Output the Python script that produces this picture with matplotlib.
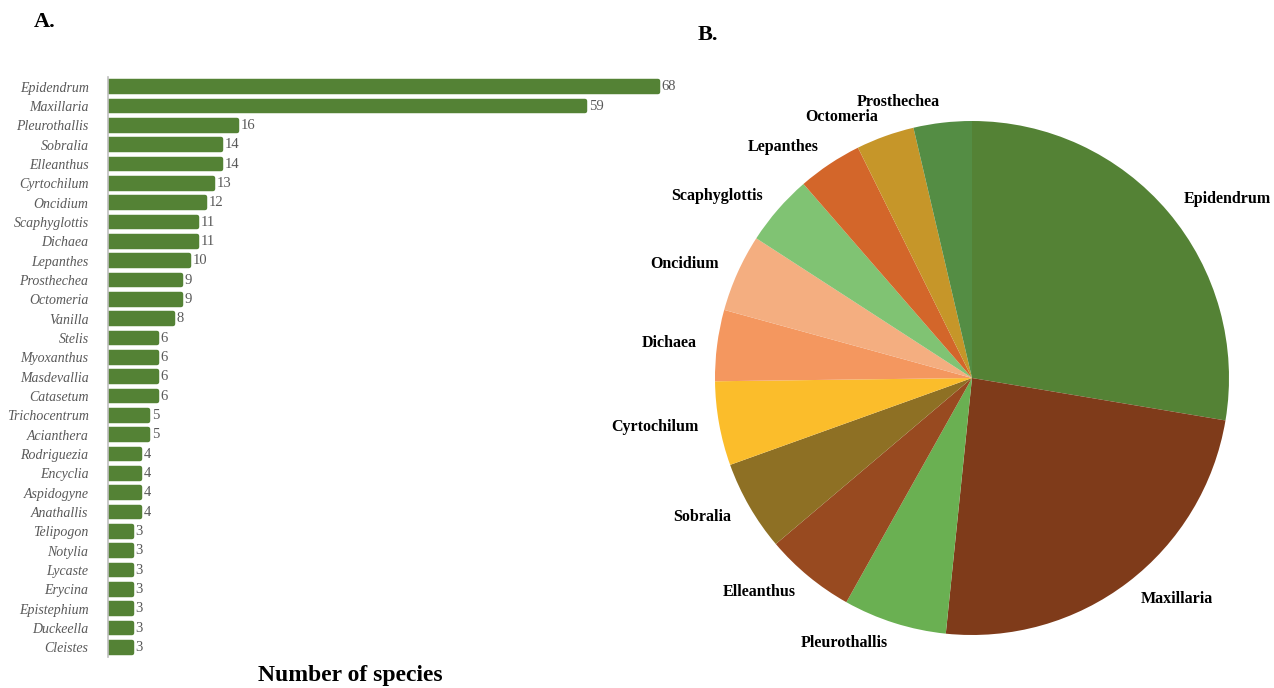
import numpy as np
import matplotlib
matplotlib.use("Agg")
import matplotlib.pyplot as plt

plt.rcParams['font.family'] = ['Liberation Serif', 'DejaVu Serif']

# A. number of species per genus
genera = ['Epidendrum', 'Maxillaria', 'Pleurothallis', 'Sobralia', 'Elleanthus',
          'Cyrtochilum', 'Oncidium', 'Scaphyglottis', 'Dichaea', 'Lepanthes',
          'Prosthechea', 'Octomeria', 'Vanilla', 'Stelis', 'Myoxanthus',
          'Masdevallia', 'Catasetum', 'Trichocentrum', 'Acianthera', 'Rodriguezia',
          'Encyclia', 'Aspidogyne', 'Anathallis', 'Telipogon', 'Notylia',
          'Lycaste', 'Erycina', 'Epistephium', 'Duckeella', 'Cleistes']
species = [68, 59, 16, 14, 14, 13, 12, 11, 11, 10, 9, 9, 8, 6, 6,
           6, 6, 5, 5, 4, 4, 4, 4, 3, 3, 3, 3, 3, 3, 3]

# B. pie of the top genera (clockwise from top)
pie_genera = ['Epidendrum', 'Maxillaria', 'Pleurothallis', 'Elleanthus', 'Sobralia',
              'Cyrtochilum', 'Dichaea', 'Oncidium', 'Scaphyglottis', 'Lepanthes',
              'Octomeria', 'Prosthechea']
pie_species = [68, 59, 16, 14, 14, 13, 11, 12, 11, 10, 9, 9]
pie_colors = ['#548235', '#7F3B1A', '#6AB052', '#984A20', '#8E7024', '#FBBD2B',
              '#F4975F', '#F4AE80', '#80C373', '#D3662A', '#C69629', '#548D44']

W, H = 1274, 688
fig = plt.figure(figsize=(W / 100, H / 100), dpi=100)

# ---- bar chart
ax1 = fig.add_axes([108 / W, 1 - 657 / H, 700 / W, 580 / H])
y = np.arange(len(genera))
bars = ax1.barh(y, species, height=0.54, color='#548235', edgecolor='#548235',
                linewidth=3.2, joinstyle='round')
ax1.set_ylim(len(genera) - 0.5, -0.5)
ax1.set_xlim(0, 700 / 8.09)
ax1.set_yticks(y)
ax1.set_yticklabels(genera, fontsize=10, style='italic', color='#595959')
ax1.tick_params(axis='y', length=0, pad=14)
ax1.set_xticks([])
for s in ['top', 'right', 'bottom']:
    ax1.spines[s].set_visible(False)
ax1.spines['left'].set_color('#BFBFBF')
ax1.spines['left'].set_linewidth(1.2)
ax1.spines['left'].set_zorder(3)
ax1.bar_label(bars, labels=[str(v) for v in species], padding=2.5,
              fontsize=10.5, color='#595959')

fig.text(350 / W, 1 - 676 / H, 'Number of species', fontsize=17,
         fontweight='bold', ha='center', va='center')
fig.text(45 / W, 1 - 22 / H, 'A.', fontsize=16, fontweight='bold',
         ha='center', va='center')
fig.text(708 / W, 1 - 35 / H, 'B.', fontsize=16, fontweight='bold',
         ha='center', va='center')

# ---- pie chart
cx, cy, r = 972, 378, 257
ax2 = fig.add_axes([(cx - r) / W, 1 - (cy + r) / H, 2 * r / W, 2 * r / H])
wedges, texts = ax2.pie(pie_species, labels=pie_genera, colors=pie_colors,
                        startangle=90, counterclock=False, labeldistance=1.08,
                        wedgeprops=dict(linewidth=0),
                        textprops=dict(fontsize=11.5, fontweight='bold'))
ax2.set_xlim(-1, 1)
ax2.set_ylim(-1, 1)
ax2.set_aspect('auto')

fig.savefig('out.png', dpi=100)
